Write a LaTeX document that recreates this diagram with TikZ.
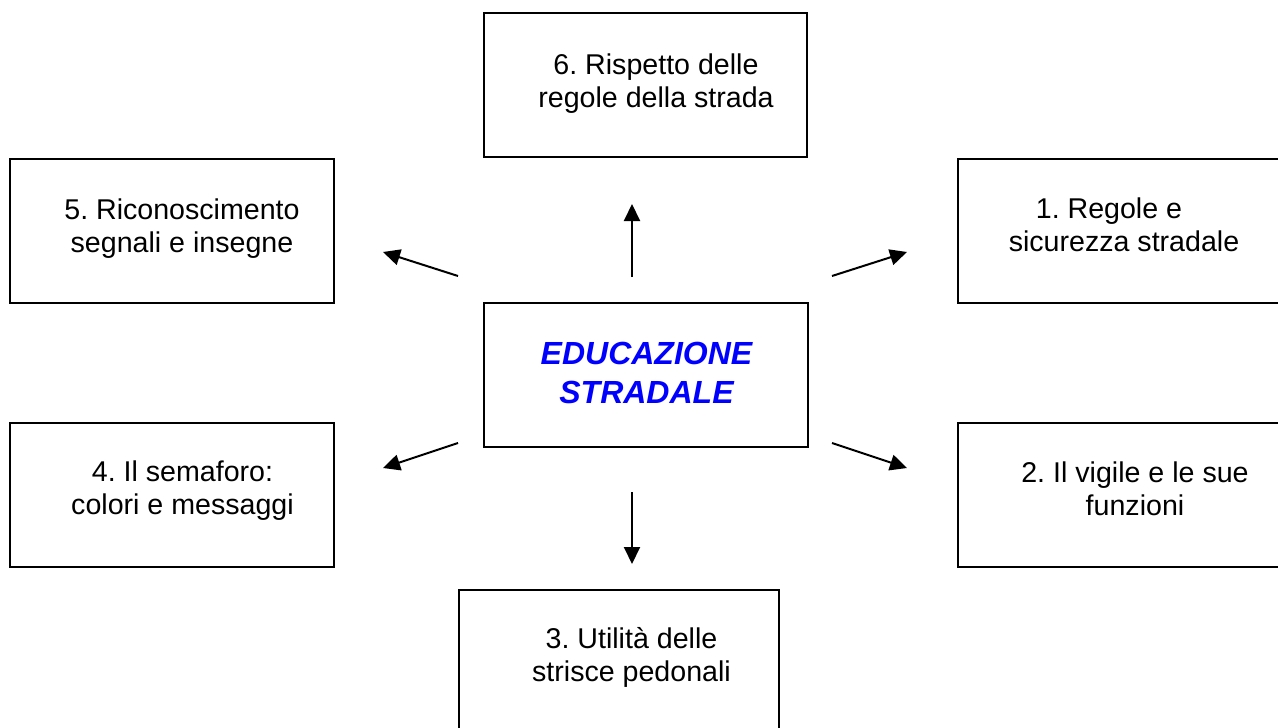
\documentclass[tikz,border=0pt]{standalone}
\usepackage{fontspec}
\setmainfont{Liberation Sans}
\frenchspacing
\usetikzlibrary{arrows.meta}
\definecolor{titleblue}{RGB}{0,0,255}
\tikzset{
  box/.style={draw=black, line width=2pt, fill=white, inner sep=0pt, anchor=north west},
  lbl/.style={align=center, inner sep=0pt, font=\fontsize{28.6}{33}\selectfont},
  title/.style={align=center, inner sep=0pt, text=titleblue, font=\fontsize{32}{39}\selectfont\bfseries\itshape},
  arr/.style={line width=2pt, -{Triangle[length=17pt,width=16pt]}}
}
\begin{document}
\begin{tikzpicture}[x=1pt,y=-1pt]
\useasboundingbox (0,0) rectangle (1278,728);
% boxes
\node[box, minimum width=323pt, minimum height=144pt] (b6) at (483,12) {};
\node[box, minimum width=324pt, minimum height=144pt] (b5) at (9,158) {};
\node[box, minimum width=335pt, minimum height=144pt] (b1) at (957,158) {};
\node[box, minimum width=324pt, minimum height=144pt] (bc) at (483,302) {};
\node[box, minimum width=324pt, minimum height=144pt] (b4) at (9,422) {};
\node[box, minimum width=335pt, minimum height=144pt] (b2) at (957,422) {};
\node[box, minimum width=320pt, minimum height=150pt] (b3) at (458,589) {};
% texts
\node[lbl] (t6) at (656,84) {6. Rispetto delle\\regole della strada};
\node[lbl] (t5) at (182,228.5) {5. Riconoscimento\\segnali e insegne};
\node[lbl] (t1) at (1116.5,225) {1. Regole e\hspace*{15pt}\\\hspace*{15pt}sicurezza stradale};
\node[lbl] (t4) at (182.5,491) {4. Il semaforo:\\colori e messaggi};
\node[lbl] (t2) at (1135,488.5) {2. Il vigile e le sue\\funzioni};
\node[lbl] (t3) at (631.5,657.5) {3. Utilità delle\\strisce pedonali};
\node[title] (tc) at (646.5,372.5) {EDUCAZIONE\\STRADALE};
% arrow endpoints
\coordinate (uS) at (632,277);
\coordinate (uE) at (632,204);
\coordinate (dS) at (632,492);
\coordinate (dE) at (632,564);
\coordinate (luS) at (458,276);
\coordinate (luE) at (383,252);
\coordinate (ruS) at (832,276);
\coordinate (ruE) at (907,252);
\coordinate (llS) at (458,443);
\coordinate (llE) at (383,468);
\coordinate (rlS) at (832,443);
\coordinate (rlE) at (907,468);
\draw[arr] (uS) -- (uE);
\draw[arr] (dS) -- (dE);
\draw[arr] (luS) -- (luE);
\draw[arr] (ruS) -- (ruE);
\draw[arr] (llS) -- (llE);
\draw[arr] (rlS) -- (rlE);
\end{tikzpicture}
\end{document}
